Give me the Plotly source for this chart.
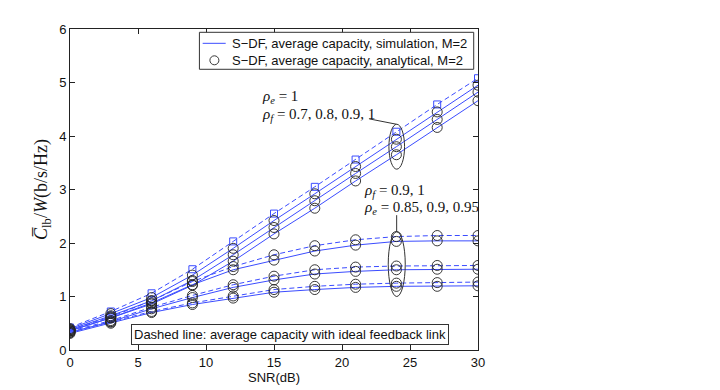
import plotly.graph_objects as go

snr = [0, 3, 6, 9, 12, 15, 18, 21, 24, 27, 30]

# Upper group: rho_e = 1 (rho_f = 1 coincides with the ideal-feedback curve, squares)
ideal_e1 = [0.42, 0.72, 1.06, 1.51, 2.03, 2.55, 3.05, 3.56, 4.08, 4.59, 5.08]
e1_f09 = [0.40, 0.68, 0.98, 1.40, 1.90, 2.42, 2.92, 3.43, 3.94, 4.45, 4.95]
e1_f08 = [0.38, 0.64, 0.92, 1.30, 1.78, 2.29, 2.79, 3.30, 3.80, 4.31, 4.82]
e1_f07 = [0.36, 0.60, 0.86, 1.21, 1.66, 2.17, 2.65, 3.16, 3.65, 4.16, 4.66]

# Lower group: rho_f = 0.9, 1 ; rho_e = 0.85, 0.9, 0.95
ideal_e095 = [0.38, 0.62, 0.92, 1.28, 1.56, 1.78, 1.95, 2.06, 2.12, 2.14, 2.14]
f09_e095 = [0.36, 0.60, 0.88, 1.22, 1.50, 1.68, 1.85, 1.96, 2.03, 2.04, 2.04]
ideal_e090 = [0.35, 0.55, 0.80, 1.02, 1.22, 1.38, 1.50, 1.55, 1.57, 1.58, 1.58]
f09_e090 = [0.33, 0.53, 0.77, 0.98, 1.17, 1.31, 1.42, 1.47, 1.50, 1.51, 1.51]
ideal_e085 = [0.33, 0.52, 0.72, 0.88, 1.01, 1.13, 1.19, 1.23, 1.25, 1.26, 1.27]
f09_e085 = [0.31, 0.50, 0.70, 0.85, 0.97, 1.08, 1.13, 1.17, 1.19, 1.19, 1.20]

x_ticks = [0, 5, 10, 15, 20, 25, 30]
y_ticks = [0, 1, 2, 3, 4, 5, 6]

legend_labels = ["S\u2212DF, average capacity, simulation, M=2",
                 "S\u2212DF, average capacity, analytical, M=2"]

BLUE = "#3b4cff"
SANS = "Liberation Sans, Arial, sans-serif"
SERIF = "Liberation Serif, DejaVu Serif, serif"
INK = "#111111"
EDGE = "#333333"

fig = go.Figure()

solid_curves = [e1_f09, e1_f08, e1_f07, f09_e095, f09_e090, f09_e085]
dashed_curves = [ideal_e1, ideal_e095, ideal_e090, ideal_e085]

for ys in solid_curves:
    fig.add_trace(go.Scatter(x=snr, y=ys, mode="lines", line=dict(color=BLUE, width=1),
                             name=legend_labels[0], showlegend=False))
for ys in dashed_curves:
    fig.add_trace(go.Scatter(x=snr, y=ys, mode="lines",
                             line=dict(color=BLUE, width=1, dash="5px,3px"), showlegend=False))

# squares on ideal rho_e=1
fig.add_trace(go.Scatter(x=snr, y=ideal_e1, mode="markers",
                         marker=dict(symbol="square-open", size=7, color=BLUE, line=dict(width=1)),
                         showlegend=False))

for ys in [e1_f09, e1_f08, e1_f07, ideal_e095, f09_e095, ideal_e090, f09_e090, ideal_e085, f09_e085]:
    fig.add_trace(go.Scatter(x=snr, y=ys, mode="markers",
                             marker=dict(symbol="circle-open", size=10, color="#222222", line=dict(width=0.9)),
                             name=legend_labels[1], showlegend=False))

# ellipses and leader lines
fig.add_shape(type="circle", xref="x", yref="y", x0=23.45, x1=24.6, y0=3.38, y1=4.22,
              line=dict(color=EDGE, width=1))
fig.add_shape(type="circle", xref="x", yref="y", x0=23.4, x1=24.65, y0=1.0, y1=2.21,
              line=dict(color=EDGE, width=1))
fig.add_shape(type="line", xref="x", yref="y", x0=22.0, y0=4.32, x1=24.0, y1=4.22,
              line=dict(color=EDGE, width=1))
fig.add_shape(type="line", xref="x", yref="y", x0=24.02, y0=2.52, x1=24.02, y1=2.21,
              line=dict(color=EDGE, width=1))

math_font = dict(family=SERIF, size=15, color=INK)
fig.add_annotation(x=13.95, y=4.72, xref="x", yref="y", xanchor="left", yanchor="middle",
                   text="<i>\u03c1</i><sub><i>e</i></sub> = 1", showarrow=False, font=math_font)
fig.add_annotation(x=13.95, y=4.39, xref="x", yref="y", xanchor="left", yanchor="middle",
                   text="<i>\u03c1</i><sub><i>f</i></sub> = 0.7, 0.8, 0.9, 1", showarrow=False, font=math_font)
fig.add_annotation(x=21.5, y=2.97, xref="x", yref="y", xanchor="left", yanchor="middle",
                   text="<i>\u03c1</i><sub><i>f</i></sub> = 0.9, 1", showarrow=False, font=math_font)
fig.add_annotation(x=21.5, y=2.65, xref="x", yref="y", xanchor="left", yanchor="middle",
                   text="<i>\u03c1</i><sub><i>e</i></sub> = 0.85, 0.9, 0.95", showarrow=False, font=math_font)

fig.add_annotation(x=0.15, y=0.016, xref="paper", yref="paper", xanchor="left", yanchor="bottom",
                   text="Dashed line: average capacity with ideal feedback link", showarrow=False,
                   font=dict(family=SANS, size=13, color=INK),
                   bgcolor="white", bordercolor=EDGE, borderwidth=1, borderpad=2)

# legend box (drawn manually to match the compact MATLAB legend)
fig.add_shape(type="rect", xref="paper", yref="paper", x0=0.3172, x1=0.9895, y0=0.8745, y1=0.9897,
              line=dict(color=EDGE, width=1), fillcolor="white", layer="above")
fig.add_shape(type="line", xref="paper", yref="paper", x0=0.3252, x1=0.3816, y0=0.9554, y1=0.9554,
              line=dict(color=BLUE, width=1), layer="above")
fig.add_shape(type="circle", xref="paper", yref="paper", xsizemode="pixel", ysizemode="pixel",
              xanchor=0.3539, yanchor=0.9025, x0=-4.5, x1=4.5, y0=-4.5, y1=4.5,
              line=dict(color="#222222", width=0.9), layer="above")
fig.add_annotation(x=0.3914, y=0.9554, xref="paper", yref="paper", xanchor="left", yanchor="middle",
                   text=legend_labels[0], showarrow=False, font=dict(family=SANS, size=13, color=INK))
fig.add_annotation(x=0.3914, y=0.9025, xref="paper", yref="paper", xanchor="left", yanchor="middle",
                   text=legend_labels[1], showarrow=False, font=dict(family=SANS, size=13, color=INK))

axis_common = dict(showline=True, linecolor="#222222", linewidth=1, mirror="ticks",
                   ticks="inside", ticklen=5, tickcolor="#222222", showgrid=False, zeroline=False,
                   tickfont=dict(family=SANS, size=13, color=INK))

fig.update_layout(
    width=720, height=390,
    margin=dict(l=62, r=250, t=21, b=48),
    paper_bgcolor="white", plot_bgcolor="white",
    xaxis=dict(range=[0, 30], tickvals=x_ticks, ticktext=[str(v) for v in x_ticks],
               title=dict(text="SNR(dB)", font=dict(family=SANS, size=13, color=INK), standoff=2),
               **axis_common),
    yaxis=dict(range=[0, 6], tickvals=y_ticks, ticktext=[str(v) for v in y_ticks],
               title=dict(text="<i>C\u0305</i><sub>lb</sub>/<i>W</i>(b/s/Hz)",
                          font=dict(family=SERIF, size=18, color=INK), standoff=6),
               **axis_common),
    showlegend=False,
)

fig.write_html("out.html")
